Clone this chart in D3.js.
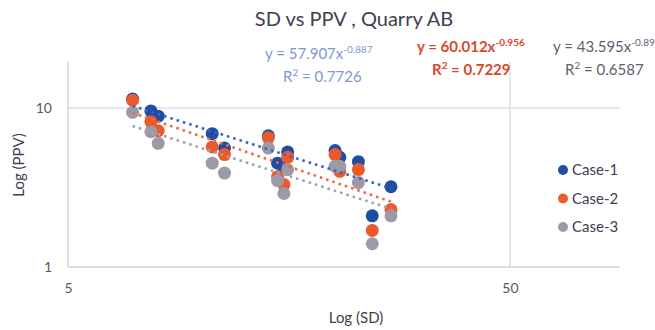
<!DOCTYPE html>
<html>
<head>
<meta charset="utf-8">
<script src="https://cdn.jsdelivr.net/npm/d3@7"></script>
<style>
  body { margin: 0; background: #fff; }
  svg { display: block; font-family: Lato, 'Open Sans', sans-serif; }
</style>
</head>
<body>
<svg id="chart" width="655" height="330"></svg>
<script>
// SD values shared by the three cases
const sd = [7.0, 7.7, 8.0, 10.6, 11.3, 14.2, 14.9, 15.4, 15.7, 20.1, 20.6, 22.7, 24.4, 26.9];
const case1 = [11.4, 9.6, 8.9, 6.9, 5.6, 6.7, 4.5, 4.2, 5.3, 5.4, 4.9, 4.6, 2.1, 3.2];
const case2 = [11.2, 8.2, 7.2, 5.7, 5.1, 6.5, 3.7, 3.3, 4.9, 5.1, 4.0, 4.1, 1.7, 2.3];
const case3 = [9.4, 7.1, 6.0, 4.5, 3.9, 5.6, 3.5, 2.9, 4.1, 4.3, 4.3, 3.4, 1.4, 2.1];
const seriesNames = ['Case-1', 'Case-2', 'Case-3'];
// power trendlines y = a * x^b
const trendA = [57.907, 60.012, 43.595];
const trendB = [-0.887, -0.956, -0.89];
const trendR2 = ['0.7726', '0.7229', '0.6587'];
const xTicks = [5, 50];
const yTicks = [1, 10];

const colors = ['#1d4ea6', '#ec5a2c', '#9b9aa6'];
const lineColors = ['#3a63c4', '#ee6a44', '#a2a2ad'];
const labelColors = ['#7e98d6', '#d8472c', '#5f5f70'];

const svg = d3.select('#chart');
const plotL = 68, plotR = 620, plotT = 62, plotB = 267;

const x = d3.scaleLog().domain([5, 88.7]).range([plotL, plotR]);
const y = d3.scaleLog().domain([1, 19.5]).range([plotB, plotT]);

const axisColor = '#cfd0dc';

// gridlines
svg.append('g').selectAll('line')
  .data(yTicks.filter(d => d !== 1))
  .enter().append('line')
  .attr('x1', plotL).attr('x2', plotR)
  .attr('y1', d => y(d)).attr('y2', d => y(d))
  .attr('stroke', axisColor).attr('stroke-width', 1);

svg.append('g').selectAll('line')
  .data(xTicks.filter(d => d !== 5))
  .enter().append('line')
  .attr('x1', d => x(d)).attr('x2', d => x(d))
  .attr('y1', plotT).attr('y2', plotB)
  .attr('stroke', axisColor).attr('stroke-width', 1);

// axes
const xAxis = svg.append('g')
  .attr('transform', `translate(0,${plotB})`)
  .call(d3.axisBottom(x).tickValues(xTicks).tickFormat(d3.format('d')).tickSize(0).tickPadding(16));
const yAxis = svg.append('g')
  .attr('transform', `translate(${plotL},0)`)
  .call(d3.axisLeft(y).tickValues(yTicks).tickFormat(d3.format('d')).tickSize(0).tickPadding(16));

[xAxis, yAxis].forEach(a => {
  a.select('.domain').attr('stroke', axisColor).attr('stroke-width', 1.3);
  a.selectAll('text').attr('fill', '#595959').attr('font-size', 14).attr('font-family', 'Lato, sans-serif');
});
yAxis.select('.domain').attr('d', `M0,${plotT}V${plotB}`);
xAxis.select('.domain').attr('d', `M${plotL},0H${plotR}`);

// points
const allCases = [case1, case2, case3];
allCases.forEach((vals, i) => {
  svg.append('g').selectAll('circle')
    .data(vals.map((v, j) => [sd[j], v]))
    .enter().append('circle')
    .attr('cx', d => x(d[0]))
    .attr('cy', d => y(d[1]))
    .attr('r', 6.5)
    .attr('fill', colors[i]);
});

// trendlines
const xMin = d3.min(sd), xMax = d3.max(sd);
allCases.forEach((vals, i) => {
  const pts = d3.range(0, 41).map(k => {
    const xv = xMin * Math.pow(xMax / xMin, k / 40);
    return [xv, trendA[i] * Math.pow(xv, trendB[i])];
  });
  svg.append('path')
    .attr('d', d3.line().x(d => x(d[0])).y(d => y(d[1]))(pts))
    .attr('fill', 'none')
    .attr('stroke', lineColors[i])
    .attr('stroke-width', 2.6)
    .attr('stroke-dasharray', '2.6,4');
});

// trendline equations
const eqPos = [[265, 59, 283, 82], [417, 52, 432, 75], [553, 52, 565, 75]];
trendA.forEach((a, i) => {
  const p = eqPos[i];
  const t = svg.append('text')
    .attr('x', p[0]).attr('y', p[1])
    .attr('fill', labelColors[i])
    .attr('font-size', 15)
    .attr('font-weight', i === 1 ? 'bold' : 'normal');
  t.append('tspan').text(`y = ${a.toFixed(3)}x`);
  t.append('tspan').attr('dy', -6).attr('font-size', 10).text(String(trendB[i]));
  const r = svg.append('text')
    .attr('x', p[2]).attr('y', p[3])
    .attr('fill', labelColors[i])
    .attr('font-size', 15)
    .attr('font-weight', i === 1 ? 'bold' : 'normal');
  r.append('tspan').text('R');
  r.append('tspan').attr('dy', -6).attr('font-size', 10).text('2');
  r.append('tspan').attr('dy', 6).text(` = ${trendR2[i]}`);
});

// title
svg.append('text')
  .attr('x', 354).attr('y', 26)
  .attr('text-anchor', 'middle')
  .attr('fill', '#404050')
  .attr('font-size', 20)
  .text('SD vs PPV , Quarry AB');

// axis titles
svg.append('text')
  .attr('x', 356).attr('y', 323)
  .attr('text-anchor', 'middle')
  .attr('fill', '#404050')
  .attr('font-size', 15)
  .text('Log (SD)');
svg.append('text')
  .attr('transform', 'translate(24,165) rotate(-90)')
  .attr('text-anchor', 'middle')
  .attr('fill', '#404050')
  .attr('font-size', 15)
  .text('Log (PPV)');

// legend
const legend = svg.append('g').selectAll('g')
  .data(seriesNames)
  .enter().append('g')
  .attr('transform', (d, i) => `translate(563,${170 + i * 28.5})`);
legend.append('circle').attr('r', 5).attr('fill', (d, i) => colors[i]);
legend.append('text')
  .attr('x', 9).attr('y', 5)
  .attr('fill', '#404050')
  .attr('font-size', 15)
  .text(d => d);
</script>
</body>
</html>
